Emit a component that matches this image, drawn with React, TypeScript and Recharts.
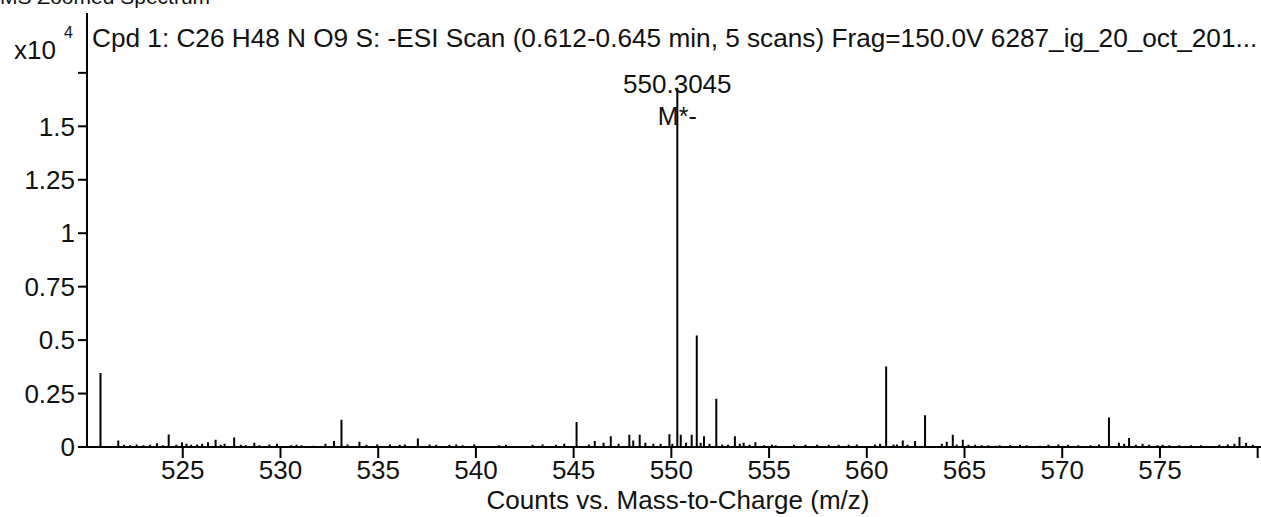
import React from "react";
import { ComposedChart, Line, Scatter, XAxis, YAxis } from "recharts";

// m/z of each peak and its height (x10^4 counts)
const peakMz = [
  520.79, 521.7, 521.99, 522.3, 522.64, 522.99, 523.33, 523.68, 523.98, 524.28,
  524.67, 524.96, 525.19, 525.43, 525.74, 525.99, 526.29, 526.68, 526.94, 527.14,
  527.63, 527.97, 528.23, 528.66, 528.92, 529.43, 529.82, 530.55, 530.82, 531.08,
  531.69, 532.3, 532.74, 533.12, 533.43, 534.04, 534.4, 534.95, 535.6, 536.1,
  536.36, 537.03, 537.63, 537.97, 538.64, 538.99, 539.32, 539.91, 541.19, 541.54,
  542.9, 543.41, 544.1, 544.52, 545.15, 545.78, 546.08, 546.53, 546.9, 547.3,
  547.85, 548.05, 548.38, 548.67, 549.08, 549.45, 549.9, 550.05, 550.3045, 550.48,
  550.75, 551.04, 551.3, 551.5, 551.67, 551.95, 552.3, 552.6, 552.9, 553.25,
  553.5, 553.7, 554.0, 554.3, 554.75, 555.15, 555.34, 556.27, 556.86, 557.46,
  558.05, 558.56, 559.07, 559.49, 560.42, 560.68, 560.99, 561.37, 561.54, 561.84,
  562.08, 562.47, 562.98, 563.84, 564.09, 564.4, 564.6, 564.91, 565.2, 565.54,
  565.88, 566.22, 566.6, 566.8, 567.33, 567.84, 568.18, 568.86, 569.29, 569.8,
  570.3, 570.82, 571.45, 571.88, 572.39, 572.9, 573.17, 573.42, 573.77, 574.11,
  574.45, 574.88, 575.14, 575.48, 575.99, 576.59, 577.1, 578.04, 578.47, 578.81,
  579.07, 579.41, 579.75,
];
const peakCounts = [
  0.346, 0.03, 0.01, 0.008, 0.012, 0.008, 0.01, 0.018, 0.008, 0.058,
  0.01, 0.022, 0.015, 0.01, 0.012, 0.015, 0.022, 0.034, 0.01, 0.015,
  0.045, 0.01, 0.008, 0.02, 0.008, 0.012, 0.015, 0.008, 0.01, 0.008,
  0.006, 0.015, 0.028, 0.128, 0.012, 0.025, 0.01, 0.012, 0.012, 0.01,
  0.012, 0.04, 0.012, 0.01, 0.01, 0.012, 0.008, 0.012, 0.008, 0.01,
  0.01, 0.012, 0.01, 0.015, 0.117, 0.012, 0.028, 0.02, 0.05, 0.015,
  0.057, 0.03, 0.057, 0.02, 0.015, 0.015, 0.06, 0.015, 1.68, 0.057,
  0.02, 0.057, 0.522, 0.02, 0.05, 0.015, 0.226, 0.012, 0.01, 0.05,
  0.015, 0.02, 0.01, 0.022, 0.008, 0.01, 0.008, 0.01, 0.01, 0.01,
  0.01, 0.01, 0.01, 0.012, 0.012, 0.015, 0.376, 0.012, 0.012, 0.03,
  0.01, 0.028, 0.148, 0.015, 0.025, 0.057, 0.012, 0.034, 0.01, 0.01,
  0.008, 0.008, 0.006, 0.008, 0.008, 0.01, 0.008, 0.006, 0.01, 0.012,
  0.01, 0.008, 0.008, 0.012, 0.138, 0.02, 0.015, 0.042, 0.01, 0.015,
  0.01, 0.008, 0.01, 0.008, 0.008, 0.008, 0.008, 0.01, 0.012, 0.015,
  0.047, 0.02, 0.01,
];

const annotatedMz = [550.3045];
const annotatedCounts = [1.68];
const annotatedLabels = ["550.3045"];
const annotatedSubLabels = ["M*-"];

const xTicks = [525, 530, 535, 540, 545, 550, 555, 560, 565, 570, 575, 580];
const xTickLabels = ["525", "530", "535", "540", "545", "550", "555", "560", "565", "570", "575", ""];
const yTicks = [0, 0.25, 0.5, 0.75, 1, 1.25, 1.5, 1.75];
const yTickLabels = ["0", "0.25", "0.5", "0.75", "1", "1.25", "1.5", ""];

const xDomain = [520.1, 580.17];
const yDomain = [0, 2.03];

const titleText = "Cpd 1: C26 H48 N O9 S: -ESI Scan (0.612-0.645 min, 5 scans) Frag=150.0V 6287_ig_20_oct_201...";
const panelTitle = "MS Zoomed Spectrum";
const xAxisTitle = "Counts vs. Mass-to-Charge (m/z)";

const FONT = "'Liberation Sans', Arial, Helvetica, sans-serif";

const stickData: { x: number; y: number }[] = [{ x: xDomain[0], y: 0 }];
peakMz.forEach((m, i) => {
  stickData.push({ x: m, y: 0 });
  stickData.push({ x: m, y: peakCounts[i] });
  stickData.push({ x: m, y: 0 });
});
stickData.push({ x: xDomain[1], y: 0 });

const annotationData = annotatedMz.map((m, i) => ({
  x: m,
  y: annotatedCounts[i],
  label: annotatedLabels[i],
  sub: annotatedSubLabels[i],
}));

const AnnotationShape = (props: any) => {
  const { cx, cy, payload } = props;
  return (
    <g>
      <text x={cx} y={cy + 5} textAnchor="middle" fontSize={26} fontFamily={FONT} fill="#111">
        {payload.label}
      </text>
      <text x={cx} y={cy + 37} textAnchor="middle" fontSize={25} fontFamily={FONT} fill="#111">
        {payload.sub}
      </text>
    </g>
  );
};

export default function App() {
  return (
    <div style={{ position: "relative", width: 1261, height: 517 }}>
      <style>{`body{margin:0;overflow:hidden;background:#fff}`}</style>
      <ComposedChart
        width={1261}
        height={517}
        margin={{ top: 13, right: 0, bottom: 0, left: 0 }}
      >
        <XAxis
          xAxisId="main"
          type="number"
          dataKey="x"
          domain={xDomain}
          allowDataOverflow
          ticks={xTicks}
          tickFormatter={(v: number) => xTickLabels[xTicks.indexOf(v)] ?? ""}
          interval={0}
          height={70}
          tickSize={11}
          tickMargin={3}
          axisLine={{ stroke: "#000", strokeWidth: 2 }}
          tickLine={{ stroke: "#000", strokeWidth: 2 }}
          tick={{ fill: "#111", fontSize: 26, fontFamily: FONT }}
          label={(p: any) => {
            const vb = p.viewBox || {};
            return (
              <text
                x={(vb.x ?? 87) + (vb.width ?? 1174) / 2 + 4}
                y={(vb.y ?? 447) + (vb.height ?? 70) - 8}
                textAnchor="middle"
                fontSize={26}
                fontFamily={FONT}
                fill="#111"
              >
                {xAxisTitle}
              </text>
            );
          }}
        />
        <XAxis
          xAxisId="top"
          orientation="top"
          type="number"
          domain={xDomain}
          allowDataOverflow
          height={0}
          tick={false}
          tickLine={false}
          axisLine={{ stroke: "#000", strokeWidth: 2 }}
        />
        <YAxis
          yAxisId="main"
          type="number"
          domain={yDomain}
          allowDataOverflow
          ticks={yTicks}
          tickFormatter={(v: number) => yTickLabels[yTicks.indexOf(v)] ?? ""}
          interval={0}
          width={87}
          tickSize={9}
          tickMargin={3}
          axisLine={{ stroke: "#000", strokeWidth: 2 }}
          tickLine={{ stroke: "#000", strokeWidth: 2 }}
          tick={{ fill: "#111", fontSize: 26, fontFamily: FONT }}
        />
        <Line
          xAxisId="main"
          yAxisId="main"
          data={stickData}
          dataKey="y"
          type="linear"
          stroke="#000"
          strokeWidth={2}
          dot={false}
          activeDot={false}
          isAnimationActive={false}
        />
        <Scatter
          xAxisId="main"
          yAxisId="main"
          data={annotationData}
          dataKey="y"
          shape={AnnotationShape}
          isAnimationActive={false}
        />
      </ComposedChart>
      <svg
        width={1261}
        height={517}
        style={{ position: "absolute", left: 0, top: 0, pointerEvents: "none" }}
      >
        <text x={0} y={4} fontSize={21} fontFamily={FONT} fill="#111">
          {panelTitle}
        </text>
        <text x={14} y={59} fontSize={26} fontFamily={FONT} fill="#111">
          x10
        </text>
        <text x={64} y={37.5} fontSize={16} fontFamily={FONT} fill="#111">
          4
        </text>
        <text x={92} y={46.5} fontSize={26.2} fontFamily={FONT} fill="#111">
          {titleText}
        </text>
      </svg>
    </div>
  );
}
